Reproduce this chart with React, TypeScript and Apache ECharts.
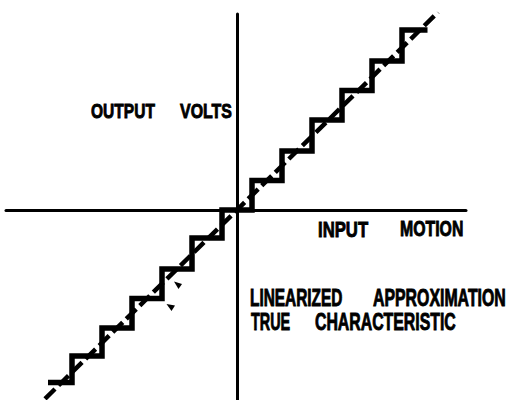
import React, { useEffect, useRef } from "react";
import * as echarts from "echarts";

// Linearized approximation (staircase): input positions and quantized output levels
const stepInputs = [-6.3, -6, -5, -4, -3, -2, -1, 0, 1, 2, 3, 4, 5, 6, 6.35];
const stepOutputs = [-5.85, -5.85, -4.95, -4, -3, -2, -0.95, 0, 1, 2, 3.05, 4.05, 5.05, 6.1, 6.1];

// True characteristic (straight line)
const trueInputs = [-6.4, 6.7];
const trueOutputs = [-6.4, 6.7];

// Label words
const yAxisWords = ["OUTPUT", "VOLTS"];
const xAxisWords = ["INPUT", "MOTION"];
const approxWords = ["LINEARIZED", "APPROXIMATION"];
const trueWords = ["TRUE", "CHARACTERISTIC"];

const FONT_FAMILY = '"Liberation Sans", Arial, "DejaVu Sans", sans-serif';

function word(text: string, x: number, y: number, size: number, sx: number) {
  return {
    type: "text",
    x,
    y,
    scaleX: sx,
    silent: true,
    style: {
      text,
      x: 0,
      y: 0,
      fill: "#000",
      stroke: "#000",
      lineWidth: 0.9,
      fontSize: size,
      fontWeight: "bold",
      fontFamily: FONT_FAMILY,
      align: "left",
      verticalAlign: "middle",
      textAlign: "left",
      textVerticalAlign: "middle",
    },
  };
}

export default function App() {
  const ref = useRef<HTMLDivElement>(null);

  useEffect(() => {
    if (!ref.current) return;
    const chart = echarts.init(ref.current, undefined, { renderer: "svg" });

    const stepData = stepInputs.map((x, i) => [x, stepOutputs[i]]);
    const trueData = trueInputs.map((x, i) => [x, trueOutputs[i]]);

    chart.setOption({
      animation: false,
      backgroundColor: "#fff",
      grid: { left: 6, top: 14, width: 460, height: 386, containLabel: false },
      xAxis: {
        type: "value",
        min: -7.7,
        max: 7.633,
        axisLine: { show: true, onZero: true, lineStyle: { color: "#000", width: 3 } },
        axisTick: { show: false },
        axisLabel: { show: false },
        splitLine: { show: false },
      },
      yAxis: {
        type: "value",
        min: -6.44,
        max: 6.64,
        axisLine: { show: true, onZero: true, lineStyle: { color: "#000", width: 3 } },
        axisTick: { show: false },
        axisLabel: { show: false },
        splitLine: { show: false },
      },
      series: [
        {
          name: "TRUE CHARACTERISTIC",
          type: "line",
          data: trueData,
          symbol: "none",
          lineStyle: { color: "#000", width: 4.5, type: [14, 5], cap: "butt" },
          z: 2,
        },
        {
          name: "LINEARIZED APPROXIMATION",
          type: "line",
          step: "middle",
          data: stepData,
          symbol: "none",
          lineStyle: { color: "#000", width: 5.5, join: "miter", cap: "butt" },
          z: 3,
        },
      ],
      graphic: [
        word(yAxisWords[0], 91, 111, 21, 0.74),
        word(yAxisWords[1], 180, 111, 21, 0.76),
        word(xAxisWords[0], 318, 229, 22, 0.76),
        word(xAxisWords[1], 400, 229, 22, 0.72),
        word(approxWords[0], 250, 298, 23, 0.67),
        word(approxWords[1], 373, 298, 23, 0.69),
        word(trueWords[0], 251, 322, 24, 0.6),
        word(trueWords[1], 315, 322, 24, 0.66),
        {
          type: "polygon",
          silent: true,
          shape: { points: [[174, 281.5], [182, 284], [178.5, 289]] },
          style: { fill: "#000" },
        },
        {
          type: "polygon",
          silent: true,
          shape: { points: [[166.5, 304], [175, 305.5], [171.5, 311]] },
          style: { fill: "#000" },
        },
      ],
    });

    return () => chart.dispose();
  }, []);

  return (
    <div
      ref={ref}
      style={{ position: "fixed", left: 0, top: 0, width: 513, height: 400, background: "#fff" }}
    />
  );
}
